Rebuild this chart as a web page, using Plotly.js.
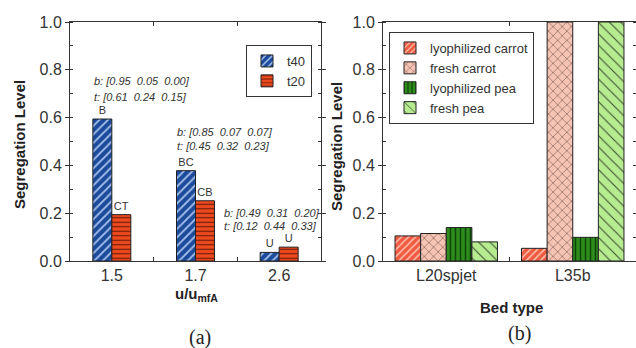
<!DOCTYPE html>
<html>
<head>
<meta charset="utf-8">
<script src="https://cdn.plot.ly/plotly-3.0.1.min.js"></script>
<style>html,body{margin:0;padding:0;background:#fff;}#chart{width:636px;height:348px;}</style>
</head>
<body>
<div id="chart"></div>
<script>
// ---- data (a) ----
const velocityCats = ['1.5', '1.7', '2.6'];
const t40Values = [0.594, 0.378, 0.036];
const t20Values = [0.194, 0.252, 0.058];
const t40Labels = ['B', 'BC', 'U'];
const t20Labels = ['CT', 'CB', 'U'];
const compB = ['b: [0.95  0.05  0.00]', 'b: [0.85  0.07  0.07]', 'b: [0.49  0.31  0.20]'];
const compT = ['t: [0.61  0.24  0.15]', 't: [0.45  0.32  0.23]', 't: [0.12  0.44  0.33]'];
// ---- data (b) ----
const bedCats = ['L20spjet', 'L35b'];
const lyoCarrot = [0.105, 0.053];
const freshCarrot = [0.115, 1.0];
const lyoPea = [0.14, 0.099];
const freshPea = [0.08, 1.0];

const W = 636, H = 348, MT = 22, MB = 87;
const PH = H - MT - MB;
const px = x => x / W;
const py = y => (H - MB - y) / PH;
const nb = s => s.replace(/ /g, '\u00a0');

const FONT = '"Liberation Sans", Arial, sans-serif';
const lineStyle = {color: '#222', width: 1};

function pat(shape, bg, fg, size, sol) {
  return {shape: shape, bgcolor: bg, fgcolor: fg, size: size, solidity: sol, fillmode: 'replace'};
}

const traces = [
  {type: 'bar', name: 't40', x: velocityCats, y: t40Values, text: t40Labels,
   textposition: 'outside', cliponaxis: false, textfont: {size: 11, color: '#333', family: FONT},
   width: 0.227, offset: -0.227,
   marker: {color: '#1d4b9b', line: lineStyle, pattern: pat('/', '#1d4b9b', '#a9c4ee', 6, 0.3)},
   xaxis: 'x', yaxis: 'y', legend: 'legend'},
  {type: 'bar', name: 't20', x: velocityCats, y: t20Values, text: t20Labels,
   textposition: 'outside', cliponaxis: false, textfont: {size: 11, color: '#333', family: FONT},
   width: 0.227, offset: 0,
   marker: {color: '#ee4a1e', line: lineStyle, pattern: pat('-', '#ee4a1e', '#6b1a08', 4.5, 0.25)},
   xaxis: 'x', yaxis: 'y', legend: 'legend'},
  {type: 'bar', name: 'lyophilized carrot', x: bedCats, y: lyoCarrot,
   marker: {color: '#f05a40', line: lineStyle, pattern: pat('/', '#f05a40', '#ffc0b0', 5, 0.3)},
   xaxis: 'x2', yaxis: 'y2', legend: 'legend2'},
  {type: 'bar', name: 'fresh carrot', x: bedCats, y: freshCarrot,
   marker: {color: '#f6c4b4', line: lineStyle, pattern: pat('x', '#f6c4b4', '#5a3b35', 6.5, 0.14)},
   xaxis: 'x2', yaxis: 'y2', legend: 'legend2'},
  {type: 'bar', name: 'lyophilized pea', x: bedCats, y: lyoPea,
   marker: {color: '#2e8c1c', line: lineStyle, pattern: pat('|', '#2e8c1c', '#0c4506', 5, 0.3)},
   xaxis: 'x2', yaxis: 'y2', legend: 'legend2'},
  {type: 'bar', name: 'fresh pea', x: bedCats, y: freshPea,
   marker: {color: '#b6eb90', line: lineStyle, pattern: pat('\\', '#b6eb90', '#3b4d30', 8, 0.13)},
   xaxis: 'x2', yaxis: 'y2', legend: 'legend2'}
];

function yax(anchor) {
  return {anchor: anchor, domain: [0, 1], range: [0, 1], dtick: 0.2, tick0: 0, tickformat: '.1f',
    ticks: 'outside', ticklen: 4, tickcolor: '#333', showline: true, linecolor: '#333', linewidth: 1,
    mirror: 'ticks', showgrid: false, zeroline: false,
    minor: {dtick: 0.1, ticks: 'inside', ticklen: 3, tickcolor: '#333'},
    tickfont: {size: 16, color: '#333', family: FONT}};
}
function xax(anchor, dom) {
  return {anchor: anchor, domain: dom, type: 'category', tickson: 'boundaries',
    ticks: 'inside', ticklen: 4, tickcolor: '#333', showline: true, linecolor: '#333', linewidth: 1,
    mirror: 'ticks', showgrid: false, zeroline: false,
    tickfont: {size: 16, color: '#333', family: FONT}};
}

const ann = [];
for (let i = 0; i < compB.length; i++) {
  const pos = [[92, 81, 97], [175, 132, 146], [222, 213, 226]][i];
  ann.push({xref: 'paper', yref: 'paper', x: px(pos[0]), y: py(pos[1]), text: '<i>' + nb(compB[i]) + '</i>',
    showarrow: false, xanchor: 'left', yanchor: 'middle', font: {size: 11, color: '#333', family: FONT}});
  ann.push({xref: 'paper', yref: 'paper', x: px(pos[0]), y: py(pos[2]), text: '<i>' + nb(compT[i]) + '</i>',
    showarrow: false, xanchor: 'left', yanchor: 'middle', font: {size: 11, color: '#333', family: FONT}});
}
const titleFont = {size: 15, color: '#222', family: FONT};
ann.push({xref: 'paper', yref: 'paper', x: px(19), y: py(145), text: '<b>Segregation Level</b>', textangle: -90,
  showarrow: false, xanchor: 'center', yanchor: 'middle', font: titleFont});
ann.push({xref: 'paper', yref: 'paper', x: px(336), y: py(147), text: '<b>Segregation Level</b>', textangle: -90,
  showarrow: false, xanchor: 'center', yanchor: 'middle', font: titleFont});
ann.push({xref: 'paper', yref: 'paper', x: px(196), y: py(294), text: '<b>u/u<sub>mfA</sub></b>',
  showarrow: false, xanchor: 'center', yanchor: 'middle', font: titleFont});
ann.push({xref: 'paper', yref: 'paper', x: px(511), y: py(307), text: '<b>Bed type</b>',
  showarrow: false, xanchor: 'center', yanchor: 'middle', font: titleFont});
ann.push({xref: 'paper', yref: 'paper', x: px(200), y: py(337), text: '(a)',
  showarrow: false, xanchor: 'center', yanchor: 'middle', font: {size: 20, color: '#222', family: '"Liberation Serif", "Times New Roman", serif'}});
ann.push({xref: 'paper', yref: 'paper', x: px(519), y: py(333), text: '(b)',
  showarrow: false, xanchor: 'center', yanchor: 'middle', font: {size: 20, color: '#222', family: '"Liberation Serif", "Times New Roman", serif'}});

const layout = {
  width: W, height: H,
  margin: {l: 0, r: 0, t: MT, b: MB, pad: 0},
  paper_bgcolor: '#fff', plot_bgcolor: '#fff',
  font: {family: FONT, color: '#333'},
  barmode: 'group', bargap: 0.19, bargroupgap: 0,
  xaxis: xax('y', [px(70), px(321)]),
  yaxis: yax('x'),
  xaxis2: xax('y2', [px(383), 1]),
  yaxis2: yax('x2'),
  showlegend: true,
  legend: {x: px(246), y: py(45), xanchor: 'left', yanchor: 'top', bgcolor: '#fff', bordercolor: '#333', borderwidth: 1,
    font: {size: 13, color: '#333', family: FONT}, tracegroupgap: 0, itemwidth: 30},
  legend2: {x: px(389), y: py(32), xanchor: 'left', yanchor: 'top', bgcolor: '#fff', bordercolor: '#333', borderwidth: 1,
    font: {size: 13, color: '#333', family: FONT}, tracegroupgap: 0, itemwidth: 30},
  annotations: ann
};

Plotly.newPlot('chart', traces, layout, {displayModeBar: false, staticPlot: true});
</script>
</body>
</html>
